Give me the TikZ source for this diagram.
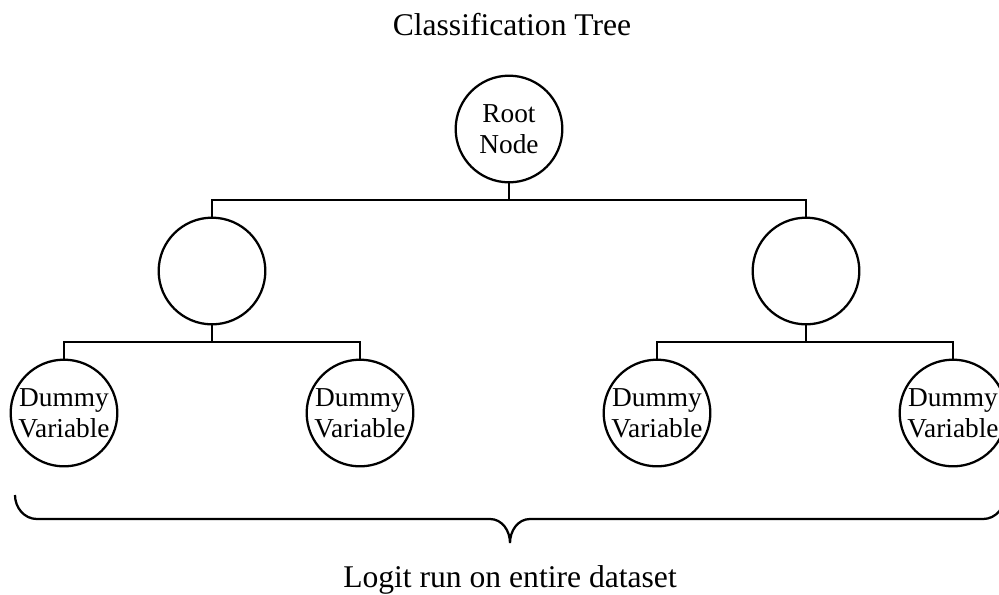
\documentclass[tikz,border=0pt]{standalone}
\usepackage{fontspec}
\setmainfont{Liberation Serif}
\begin{document}
\begin{tikzpicture}[x=0.75pt,y=-0.75pt,
  treenode/.style={circle,draw,line width=1.7pt,minimum size=80pt,inner sep=0pt,align=center,
    font=\fontsize{20.5}{23}\selectfont},
  link/.style={line width=1.7pt},
  bigtext/.style={font=\fontsize{23.7}{28}\selectfont,anchor=base,inner sep=0pt}]
\useasboundingbox (0,0) rectangle (999,594);
\clip (0,0) rectangle (999,594);
\node[bigtext] (title) at (512,35) {Classification Tree};
\node[treenode] (root) at (509,129) {Root\\Node};
\node[treenode] (m1) at (212,271) {};
\node[treenode] (m2) at (806,271) {};
\node[treenode] (l1) at (64,413) {Dummy\\Variable};
\node[treenode] (l2) at (360,413) {Dummy\\Variable};
\node[treenode] (l3) at (657,413) {Dummy\\Variable};
\node[treenode] (l4) at (953,413) {Dummy\\Variable};
\coordinate (j1) at (509,200);
\coordinate (j2) at (212,342);
\coordinate (j3) at (806,342);
\draw[link] (root.south) -- (j1);
\draw[link] (m1.north) |- (j1) -| (m2.north);
\draw[link] (m1.south) -- (j2);
\draw[link] (l1.north) |- (j2) -| (l2.north);
\draw[link] (m2.south) -- (j3);
\draw[link] (l3.north) |- (j3) -| (l4.north);
\draw[link] (15,495) to[out=-90,in=180] (37,519) -- (490,519)
  to[out=0,in=90] (510,543) to[out=90,in=180] (530,519) -- (983,519)
  to[out=0,in=-90] (1005,495);
\node[bigtext] (caption) at (510,587) {Logit run on entire dataset};
\end{tikzpicture}
\end{document}
